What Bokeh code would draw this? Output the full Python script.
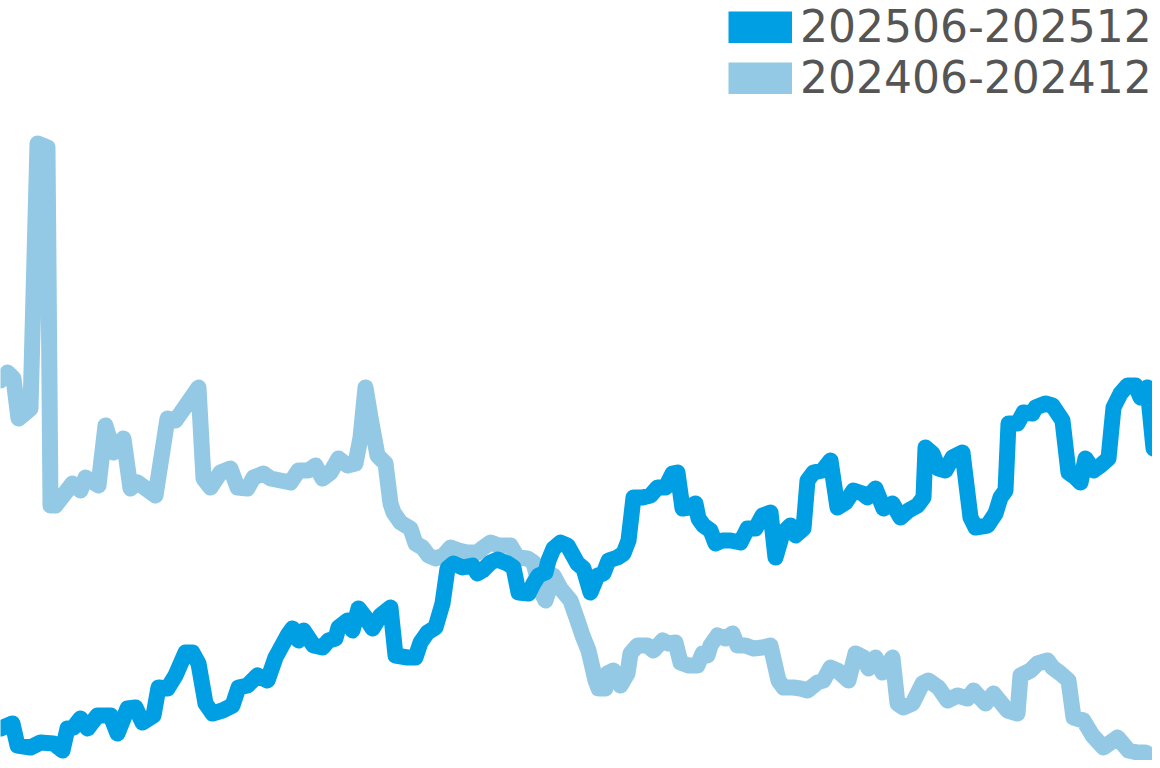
from bokeh.plotting import figure
from bokeh.models import Range1d, Legend, LegendItem
from bokeh.embed import file_html
from bokeh.resources import INLINE

# Series 202406-202412 (light) : t = time position, v = value
t_prev = [0.0, 0.7, 1.3, 1.8, 3.0, 3.7, 4.7, 5.0, 5.5, 7.2, 8.0, 8.5, 9.8, 10.5, 11.3, 12.3, 13.0, 13.7,
          15.5, 16.7, 17.5, 18.2, 18.7, 19.8, 20.3, 21.0, 22.0, 23.0, 23.7, 24.7, 25.3, 26.3, 27.0, 28.0,
          29.0, 29.8, 30.8, 31.5, 32.2, 33.0, 33.8, 34.7, 35.5, 36.0, 36.5, 37.0, 37.7, 38.5, 39.0, 39.3,
          40.0, 41.0, 41.5, 42.2, 42.8, 43.5, 44.3, 45.0, 45.8, 46.7, 47.7, 48.3, 49.0, 49.8, 51.0, 51.7,
          52.7, 53.3, 54.0, 54.5, 55.3, 56.0, 57.0, 57.7, 58.2, 58.8, 59.5, 59.8, 60.5, 60.7, 61.3, 62.0,
          62.7, 63.0, 63.7, 64.7, 65.3, 66.2, 66.8, 67.5, 68.0, 68.8, 69.7, 70.2, 70.7, 71.0, 71.7, 72.5,
          73.2, 73.7, 74.5, 75.3, 76.2, 77.0, 77.8, 78.3, 79.3, 80.0, 80.7, 81.7, 82.3, 83.0, 83.7, 84.8,
          85.5, 86.3, 86.8, 87.5, 88.2, 89.2, 89.7, 90.3, 91.2, 92.2, 92.8, 93.8, 94.7, 95.7, 96.7, 97.3,
          98.5, 99.3, 100.7, 101.7, 102.0, 103.0, 103.7, 104.7, 105.2, 106.0, 106.8, 107.3, 108.3, 109.2,
          110.3, 111.7, 112.8, 113.7, 114.5, 115.3, 116.0]
v_prev = [38.8, 39.6, 39.0, 35.0, 36.0, 62.5, 62.1, 26.3, 26.3, 28.5, 27.8, 29.1, 28.3, 34.3, 31.6, 33.0,
          28.0, 28.6, 27.3, 35.0, 34.8, 35.8, 36.5, 38.1, 29.0, 28.1, 29.6, 30.0, 28.1, 28.0, 29.1, 29.5,
          29.0, 28.8, 28.6, 29.8, 29.8, 30.3, 29.0, 29.6, 31.0, 30.3, 30.5, 33.1, 38.1, 35.1, 31.3, 30.5,
          26.5, 25.6, 24.6, 24.0, 22.5, 22.1, 21.3, 21.0, 21.3, 22.1, 21.8, 21.6, 21.6, 22.1, 22.6, 22.3,
          22.3, 21.1, 21.0, 20.6, 17.8, 16.8, 19.3, 18.0, 16.8, 14.8, 13.3, 11.8, 8.8, 8.0, 8.0, 9.5, 9.8,
          8.3, 9.5, 11.5, 12.3, 12.3, 11.8, 12.8, 12.5, 12.6, 10.6, 10.3, 10.3, 11.5, 11.3, 12.3, 13.3,
          13.0, 13.5, 12.3, 12.3, 12.0, 12.1, 12.3, 8.8, 8.1, 8.1, 8.0, 7.8, 8.6, 8.8, 10.1, 9.8, 8.8,
          11.5, 11.1, 10.0, 11.1, 9.6, 11.1, 6.5, 6.1, 6.5, 8.5, 8.8, 8.1, 6.8, 7.3, 7.0, 7.8, 6.5, 7.5,
          5.8, 5.5, 9.3, 9.8, 10.5, 10.8, 10.1, 9.5, 8.8, 5.1, 4.8, 3.3, 2.1, 3.1, 1.8, 1.6, 1.6, 1.0, 0.3]

# Series 202506-202512 (dark)
t_cur = [0.0, 1.2, 1.7, 3.0, 4.0, 5.3, 6.2, 6.7, 7.3, 8.0, 8.7, 9.7, 11.0, 11.7, 12.7, 13.5, 14.2, 15.3,
         15.8, 16.7, 17.5, 18.5, 19.2, 19.8, 20.5, 21.2, 22.2, 23.2, 23.8, 24.7, 25.7, 26.7, 27.5, 28.7,
         29.2, 29.8, 30.3, 31.3, 32.2, 32.8, 33.5, 33.8, 34.7, 35.2, 35.8, 36.5, 37.2, 38.0, 39.0, 39.5,
         40.7, 41.5, 42.0, 42.7, 43.5, 44.2, 44.7, 45.3, 46.2, 47.2, 47.7, 48.2, 49.0, 49.7, 50.7, 51.3,
         51.8, 52.8, 53.3, 53.8, 54.5, 54.8, 55.3, 56.0, 56.7, 57.7, 58.3, 59.0, 59.7, 60.3, 60.8, 61.7,
         62.3, 62.8, 63.3, 64.2, 65.0, 65.7, 66.5, 67.2, 67.7, 68.2, 68.8, 69.5, 69.8, 70.3, 71.0, 71.5,
         72.2, 73.0, 74.0, 74.7, 75.5, 76.2, 77.0, 77.5, 78.2, 79.0, 79.5, 80.3, 80.7, 81.3, 82.2, 83.0,
         83.7, 84.5, 85.3, 86.2, 86.7, 87.5, 88.3, 89.2, 90.0, 90.8, 91.7, 92.3, 92.5, 93.2, 93.8, 94.5,
         95.2, 96.2, 97.0, 97.5, 98.7, 99.5, 100.0, 100.5, 100.8, 101.7, 102.3, 103.2, 103.5, 104.5,
         105.2, 106.2, 106.8, 107.5, 108.0, 108.5, 109.3, 110.0, 110.8, 111.3, 112.0, 112.7, 113.5,
         114.0, 114.7, 115.3]
v_cur = [4.0, 4.5, 2.3, 2.1, 2.6, 2.5, 1.8, 4.0, 4.1, 5.0, 4.0, 5.3, 5.3, 3.5, 6.0, 6.1, 4.6, 5.3, 8.1,
         8.0, 9.3, 11.6, 11.6, 10.5, 6.5, 5.5, 5.8, 6.3, 8.1, 8.3, 9.3, 8.8, 11.1, 13.3, 14.0, 12.8, 13.8,
         12.3, 12.1, 12.8, 13.0, 14.1, 14.8, 13.8, 16.0, 15.1, 14.0, 15.3, 16.1, 11.3, 11.1, 11.1, 12.6,
         13.6, 14.1, 16.5, 20.0, 20.5, 20.1, 20.3, 19.5, 19.8, 20.6, 20.9, 20.5, 20.1, 17.6, 17.5, 18.5,
         19.3, 19.6, 20.8, 22.0, 22.6, 22.3, 20.5, 20.0, 17.6, 19.3, 19.5, 20.8, 21.1, 21.5, 22.8, 27.1,
         27.1, 27.3, 28.1, 28.1, 29.5, 29.6, 26.0, 26.1, 26.5, 25.0, 24.3, 23.8, 22.5, 22.8, 22.8, 22.6,
         24.0, 24.0, 25.3, 25.6, 21.1, 23.5, 24.3, 23.3, 24.0, 28.8, 29.6, 29.8, 30.8, 26.1, 26.6, 27.8,
         27.5, 27.1, 28.0, 26.0, 26.5, 25.1, 25.8, 26.3, 27.1, 32.1, 31.5, 30.0, 29.8, 31.1, 31.6, 25.1,
         24.1, 24.3, 25.5, 27.1, 27.8, 34.5, 34.5, 35.6, 35.5, 36.1, 36.5, 36.3, 34.8, 29.6, 29.1, 28.6,
         31.0, 29.8, 30.3, 31.0, 36.1, 37.5, 38.3, 38.3, 37.1, 38.1, 32.0]

labels = ["202506-202512", "202406-202412"]
colors = ["#009FE3", "#93C9E4"]

p = figure(width=1152, height=760, output_backend="svg", toolbar_location=None,
           x_range=Range1d(0.0, 115.2), y_range=Range1d(0.8, 76.8), min_border=0,
           background_fill_color="white", border_fill_color="white")
p.axis.visible = False
p.grid.visible = False
p.outline_line_color = None

p.line(t_prev, v_prev, line_width=16, color=colors[1], line_join="round", line_cap="round")
p.line(t_cur, v_cur, line_width=16, color=colors[0], line_join="round", line_cap="round")

# legend swatch renderers (single point: draws nothing in the plot itself)
sw_cur = p.line(t_cur[:1], v_cur[:1], line_width=32, color=colors[0], line_cap="butt")
sw_prev = p.line(t_prev[:1], v_prev[:1], line_width=32, color=colors[1], line_cap="butt")

legend = Legend(items=[LegendItem(label=labels[0], renderers=[sw_cur]),
                       LegendItem(label=labels[1], renderers=[sw_prev])],
                location=(728, 657), glyph_width=64, glyph_height=32, label_height=32,
                label_standoff=8, padding=0, margin=0, spacing=-6,
                border_line_alpha=0, background_fill_alpha=0,
                label_text_font="DejaVu Sans", label_text_font_size="44px",
                label_text_color="#555555")
p.add_layout(legend)

open("out.html", "w").write(file_html(p, INLINE))
